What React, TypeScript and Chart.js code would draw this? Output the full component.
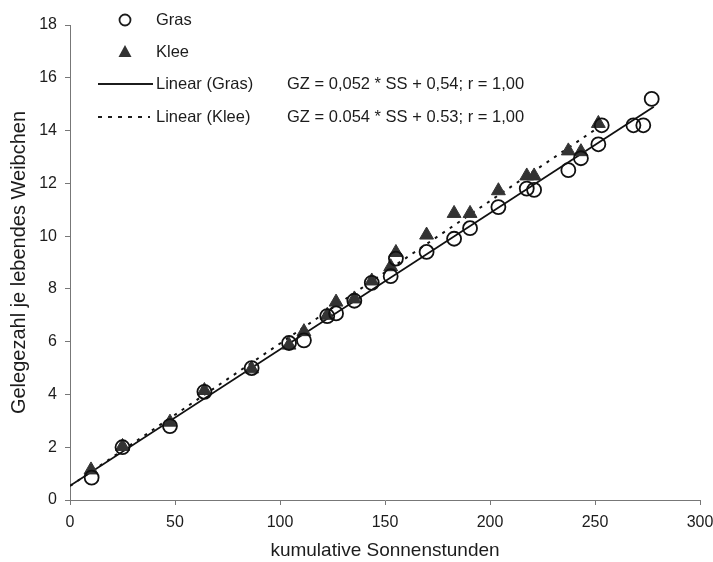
import React, { useEffect, useRef } from "react";
import { Chart, registerables } from "chart.js";

Chart.register(...registerables);

// ---- Data ----
const grasX = [10.3, 25, 47.6, 64, 86.5, 104.3, 111.4, 122.5, 126.7, 135.4, 143.7, 152.7, 155.2, 169.8, 182.9, 190.5, 204, 217.5, 221, 237.3, 243.3, 251.6, 253.2, 268.3, 273, 277];
const grasY = [0.85, 2.0, 2.8, 4.1, 5.0, 5.95, 6.05, 6.97, 7.07, 7.55, 8.23, 8.48, 9.15, 9.4, 9.9, 10.3, 11.1, 11.8, 11.75, 12.5, 12.95, 13.48, 14.2, 14.2, 14.2, 15.2];

const kleeX = [10, 25, 47.6, 64, 86.5, 104.3, 111.4, 122.5, 126.7, 135.4, 143.7, 152.7, 155.2, 169.8, 182.9, 190.5, 204, 217.5, 221, 237.3, 243.3, 251.6];
const kleeY = [1.14, 2.03, 2.95, 4.15, 4.97, 5.87, 6.38, 7.0, 7.5, 7.62, 8.3, 8.84, 9.38, 10.04, 10.86, 10.86, 11.72, 12.28, 12.28, 13.23, 13.2, 14.27];

// trend line end points (GZ = a * SS + b)
const grasTrendX = [0, 278];
const grasTrendY = [0.54, 14.9];
const kleeTrendX = [0, 252];
const kleeTrendY = [0.53, 14.14];

const xTickValues = [0, 50, 100, 150, 200, 250, 300];
const yTickValues = [0, 2, 4, 6, 8, 10, 12, 14, 16, 18];

const seriesNames = ["Gras", "Klee", "Linear (Gras)", "Linear (Klee)"];
const equations = ["GZ = 0,052 * SS + 0,54; r = 1,00", "GZ = 0.054 * SS + 0.53; r = 1,00"];
const xTitle = "kumulative Sonnenstunden";
const yTitle = "Gelegezahl je lebendes Weibchen";

const FONT = "'Liberation Sans', Arial, sans-serif";
const INK = "#1c1c1c";

const toPoints = (xs: number[], ys: number[]) => xs.map((x, i) => ({ x, y: ys[i] }));

const legendPlugin = {
  id: "customLegend",
  afterDraw(chart: any) {
    const ctx = chart.ctx as CanvasRenderingContext2D;
    ctx.save();
    ctx.fillStyle = INK;
    ctx.strokeStyle = INK;
    ctx.font = `16.5px ${FONT}`;
    ctx.textBaseline = "middle";
    ctx.textAlign = "left";
    const symX = 125;
    const textX = 156;
    const eqX = 287;
    const rows = [20, 52, 84, 117];
    // Gras circle
    ctx.lineWidth = 1.8;
    ctx.beginPath();
    ctx.arc(symX, rows[0], 5.5, 0, Math.PI * 2);
    ctx.stroke();
    ctx.fillText(seriesNames[0], textX, rows[0]);
    // Klee triangle
    ctx.fillStyle = "#333";
    ctx.beginPath();
    ctx.moveTo(symX, rows[1] - 7);
    ctx.lineTo(symX + 6.5, rows[1] + 5);
    ctx.lineTo(symX - 6.5, rows[1] + 5);
    ctx.closePath();
    ctx.fill();
    ctx.fillStyle = INK;
    ctx.fillText(seriesNames[1], textX, rows[1]);
    // Linear Gras
    ctx.lineWidth = 1.8;
    ctx.beginPath();
    ctx.moveTo(98, rows[2]);
    ctx.lineTo(153, rows[2]);
    ctx.stroke();
    ctx.fillText(seriesNames[2], textX, rows[2]);
    ctx.fillText(equations[0], eqX, rows[2]);
    // Linear Klee
    ctx.setLineDash([4, 6]);
    ctx.beginPath();
    ctx.moveTo(98, rows[3]);
    ctx.lineTo(150, rows[3]);
    ctx.stroke();
    ctx.setLineDash([]);
    ctx.fillText(seriesNames[3], textX, rows[3]);
    ctx.fillText(equations[1], eqX, rows[3]);
    ctx.restore();
  },
};

export default function App() {
  const canvasRef = useRef<HTMLCanvasElement | null>(null);

  useEffect(() => {
    if (!canvasRef.current) return;
    const chart = new Chart(canvasRef.current, {
      type: "scatter",
      data: {
        datasets: [
          {
            label: seriesNames[0],
            data: toPoints(grasX, grasY),
            pointStyle: "circle",
            pointRadius: 7,
            borderColor: "#111",
            borderWidth: 1.8,
            backgroundColor: "rgba(0,0,0,0)",
            order: 0,
          },
          {
            label: seriesNames[1],
            data: toPoints(kleeX, kleeY),
            pointStyle: "triangle",
            pointRadius: 8,
            borderColor: "#333",
            borderWidth: 1,
            backgroundColor: "#333",
            order: 1,
          },
          {
            label: seriesNames[2],
            data: toPoints(grasTrendX, grasTrendY),
            showLine: true,
            pointRadius: 0,
            borderColor: "#111",
            borderWidth: 1.8,
            order: 2,
          },
          {
            label: seriesNames[3],
            data: toPoints(kleeTrendX, kleeTrendY),
            showLine: true,
            pointRadius: 0,
            borderColor: "#111",
            borderWidth: 2,
            borderDash: [3, 6],
            order: 3,
          },
        ],
      },
      options: {
        animation: false,
        responsive: false,
        devicePixelRatio: 1,
        layout: { padding: { left: 0, top: 25, right: 13, bottom: 0 }, autoPadding: false },
        plugins: { legend: { display: false }, tooltip: { enabled: false } },
        scales: {
          x: {
            type: "linear",
            min: 0,
            max: 300,
            afterBuildTicks: (scale: any) => {
              scale.ticks = xTickValues.map((v) => ({ value: v }));
            },
            afterFit: (scale: any) => {
              scale.height = 62;
              scale.paddingLeft = 0;
              scale.paddingRight = 0;
            },
            ticks: { color: INK, font: { family: FONT, size: 16 }, padding: 8, maxRotation: 0 },
            grid: { display: true, drawOnChartArea: false, drawTicks: true, tickLength: 5, color: "#777" },
            border: { display: true, color: "#777", width: 1 },
            title: { display: true, text: xTitle, color: INK, font: { family: FONT, size: 19 }, padding: { top: 2, bottom: 0 } },
          },
          y: {
            type: "linear",
            min: 0,
            max: 18,
            afterBuildTicks: (scale: any) => {
              scale.ticks = yTickValues.map((v) => ({ value: v }));
            },
            afterFit: (scale: any) => {
              scale.width = 70;
              scale.paddingTop = 0;
              scale.paddingBottom = 0;
            },
            ticks: { color: INK, font: { family: FONT, size: 16 }, padding: 8 },
            grid: { display: true, drawOnChartArea: false, drawTicks: true, tickLength: 5, color: "#777" },
            border: { display: true, color: "#777", width: 1 },
            title: { display: true, text: yTitle, color: INK, font: { family: FONT, size: 20 }, padding: { top: 7, bottom: 0 } },
          },
        },
      },
      plugins: [legendPlugin],
    } as any);
    return () => chart.destroy();
  }, []);

  return (
    <div style={{ position: "absolute", left: 0, top: 0, width: 713, height: 562, background: "#fff" }}>
      <canvas ref={canvasRef} width={713} height={562} />
    </div>
  );
}
